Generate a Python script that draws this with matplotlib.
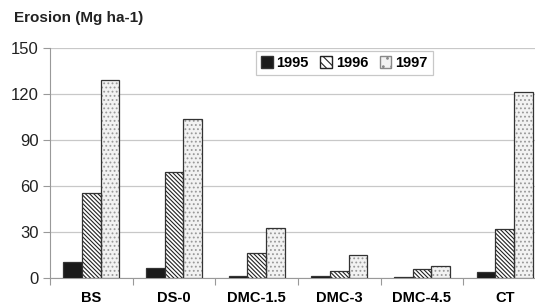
import numpy as np
import matplotlib as mpl
mpl.use('Agg')
import matplotlib.pyplot as plt
from matplotlib.patches import Patch

plt.rcParams['font.family'] = ['Liberation Sans', 'DejaVu Sans']
plt.rcParams['hatch.linewidth'] = 0.8

# data
treatments = ['BS', 'DS-0', 'DMC-1.5', 'DMC-3', 'DMC-4.5', 'CT']
years = ['1995', '1996', '1997']
e1995 = [10.6, 6.3, 1.5, 1.0, 0.8, 4.1]
e1996 = [55.5, 69.0, 16.0, 4.5, 5.8, 31.7]
e1997 = [129.0, 103.5, 32.4, 14.8, 7.6, 121.0]

fig = plt.figure(figsize=(5.35, 3.07), dpi=100)
ax = fig.add_axes([50 / 535, 1 - 278 / 307, 496 / 535, 230 / 307])

x = np.arange(len(treatments))
w = 0.225
gray = '#333333'
diag = '\\' * 8

# 1995 solid
ax.bar(x - w, e1995, w, color='#1a1a1a', edgecolor=gray, linewidth=0.9, zorder=3)
# 1996 diagonal hatch
ax.bar(x, e1996, w, color='white', edgecolor='#222222', hatch=diag, linewidth=0, zorder=3)
ax.bar(x, e1996, w, fill=False, edgecolor=gray, linewidth=0.9, zorder=4)
# 1997 fine dots
ax.bar(x + w, e1997, w, color='#f2f2f2', edgecolor='#999999', hatch='....', linewidth=0, zorder=3)
ax.bar(x + w, e1997, w, fill=False, edgecolor=gray, linewidth=0.9, zorder=4)

ax.set_xlim(-0.5, len(treatments) - 0.5)
ax.set_ylim(0, 150)
ax.set_yticks([0, 30, 60, 90, 120, 150])
ax.yaxis.grid(True, color='#c8c8c8', linewidth=0.9, zorder=0)
ax.set_axisbelow(True)

ax.set_xticks(np.arange(len(treatments) + 1) - 0.5)
ax.set_xticklabels([])
ax.set_xticks(x, minor=True)
ax.set_xticklabels(treatments, minor=True, fontsize=10.5, fontweight='bold')
ax.tick_params(axis='x', which='major', length=5, color='#999999', direction='out')
ax.tick_params(axis='x', which='minor', length=0, pad=9)
ax.tick_params(axis='y', length=5, color='#999999', labelsize=12, pad=3, labelcolor='#222222')

for s in ['top', 'right']:
    ax.spines[s].set_visible(False)
ax.spines['left'].set_color('#999999')
ax.spines['bottom'].set_color('#999999')

# legend
handles = [
    Patch(facecolor='#1a1a1a', edgecolor=gray),
    Patch(facecolor='white', edgecolor='#222222', hatch='\\\\\\\\'),
    Patch(facecolor='#f2f2f2', edgecolor='#888888', hatch='..'),
]
leg = ax.legend(handles, years, loc='upper left', bbox_to_anchor=(203 / 496, 1.0),
                ncol=3, prop={'weight': 'bold', 'size': 10.5}, frameon=True,
                fancybox=False, edgecolor='#bbbbbb', handlelength=0.8, handleheight=0.8,
                handletextpad=0.25, columnspacing=0.8, borderpad=0.35, borderaxespad=0.2)
leg.get_frame().set_linewidth(0.9)

fig.text(14 / 535, 1 - 18 / 307, 'Erosion (Mg ha-1)', fontsize=11, fontweight='bold',
         va='center', ha='left', color='#222222')

fig.savefig('out.png', dpi=100)
